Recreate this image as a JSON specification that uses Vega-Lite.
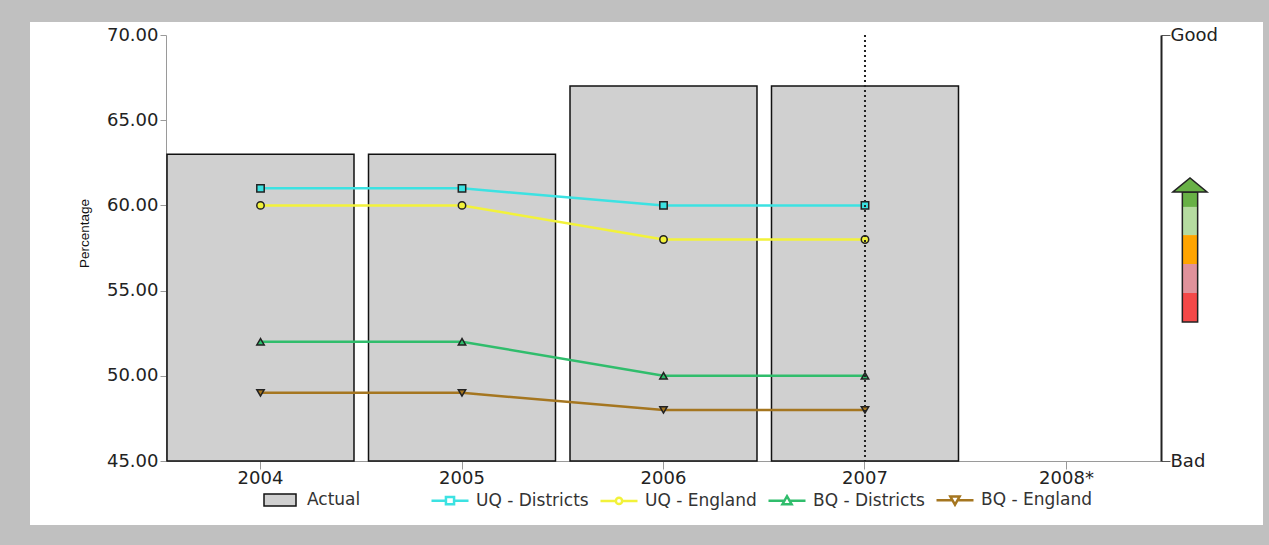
{
  "$schema": "https://vega.github.io/schema/vega-lite/v6.json",
  "width": 1233,
  "height": 503,
  "autosize": "none",
  "padding": {"left": 30, "top": 22, "right": 6, "bottom": 20},
  "background": "#c0c0c0",
  "config": {
    "view": {"stroke": null, "fill": "white"},
    "font": "DejaVu Sans"
  },
  "datasets": {
    "actual": [
      {"year": "2004", "series": "Actual", "value": 63},
      {"year": "2005", "series": "Actual", "value": 63},
      {"year": "2006", "series": "Actual", "value": 67},
      {"year": "2007", "series": "Actual", "value": 67}
    ],
    "comparators": [
      {"year": "2004", "series": "UQ - Districts", "value": 61},
      {"year": "2005", "series": "UQ - Districts", "value": 61},
      {"year": "2006", "series": "UQ - Districts", "value": 60},
      {"year": "2007", "series": "UQ - Districts", "value": 60},
      {"year": "2004", "series": "UQ - England", "value": 60},
      {"year": "2005", "series": "UQ - England", "value": 60},
      {"year": "2006", "series": "UQ - England", "value": 58},
      {"year": "2007", "series": "UQ - England", "value": 58},
      {"year": "2004", "series": "BQ - Districts", "value": 52},
      {"year": "2005", "series": "BQ - Districts", "value": 52},
      {"year": "2006", "series": "BQ - Districts", "value": 50},
      {"year": "2007", "series": "BQ - Districts", "value": 50},
      {"year": "2004", "series": "BQ - England", "value": 49},
      {"year": "2005", "series": "BQ - England", "value": 49},
      {"year": "2006", "series": "BQ - England", "value": 48},
      {"year": "2007", "series": "BQ - England", "value": 48}
    ],
    "ratingBands": [
      {"band": "red", "lo": 53.16, "hi": 54.86},
      {"band": "pink", "lo": 54.86, "hi": 56.56},
      {"band": "orange", "lo": 56.56, "hi": 58.26},
      {"band": "light green", "lo": 58.26, "hi": 59.91},
      {"band": "dark green", "lo": 59.91, "hi": 60.79}
    ],
    "arrowHead": [
      {"pos": -1, "level": 60.79},
      {"pos": 0, "level": 61.61},
      {"pos": 1, "level": 60.79}
    ]
  },
  "layer": [
    {
      "layer": [
        {
          "data": {"name": "comparators"},
          "mark": {"type": "point", "filled": false, "size": 4, "strokeWidth": 2.5, "opacity": 1},
          "encoding": {
            "x": {
              "field": "year",
              "type": "nominal",
              "scale": {
                "domain": ["2004", "2005", "2006", "2007", "2008*"],
                "range": [136, 1131],
                "paddingInner": 0.072,
                "paddingOuter": 0.005
              },
              "axis": {
                "orient": "bottom",
                "offset": -64,
                "labelAngle": 0,
                "domainColor": "#9a9a9a",
                "tickColor": "#9a9a9a",
                "tickSize": 8,
                "labelFont": "DejaVu Sans",
                "labelFontSize": 18,
                "labelColor": "#222",
                "labelPadding": 0
              },
              "title": null
            },
            "y": {
              "field": "value",
              "type": "quantitative",
              "scale": {"domain": [45, 70], "range": [439, 13], "zero": false, "nice": false},
              "axis": {
                "orient": "left",
                "offset": -136,
                "values": [45, 50, 55, 60, 65, 70],
                "format": ".2f",
                "grid": false,
                "domainColor": "#9a9a9a",
                "tickColor": "#9a9a9a",
                "tickSize": 6,
                "labelFont": "DejaVu Sans",
                "labelFontSize": 18,
                "labelColor": "#222",
                "labelPadding": 2,
                "titleFont": "Liberation Sans",
                "titleFontSize": 13.5,
                "titleFontWeight": "normal",
                "titleColor": "#111",
                "titlePadding": 15,
                "titleY": 211
              },
              "title": "Percentage"
            },
            "color": {
              "field": "series",
              "type": "nominal",
              "scale": {
                "domain": ["UQ - Districts", "UQ - England", "BQ - Districts", "BQ - England"],
                "range": ["#3ce2e2", "#f2f23a", "#30bd6c", "#a57620"]
              },
              "legend": {
                "orient": "none",
                "legendX": 400,
                "legendY": 458,
                "direction": "horizontal",
                "columns": 4,
                "title": null,
                "padding": 0,
                "symbolSize": 1369,
                "symbolStrokeWidth": 2.5,
                "symbolOpacity": 1,
                "labelFont": "DejaVu Sans",
                "labelFontSize": 17,
                "labelColor": "#333",
                "labelOffset": 6,
                "columnPadding": 6
              }
            },
            "shape": {
              "field": "series",
              "type": "nominal",
              "scale": {
                "domain": ["UQ - Districts", "UQ - England", "BQ - Districts", "BQ - England"],
                "range": [
                  "M -1 0 H -0.22 M 0.22 0 H 1 M -0.22 -0.2 H 0.22 V 0.2 H -0.22 Z",
                  "M -1 0 H -0.17 M 0.17 0 H 1 M -0.17 0 A 0.17 0.17 0 1 0 0.17 0 A 0.17 0.17 0 1 0 -0.17 0 Z",
                  "M -1 0 H -0.14 M 0.14 0 H 1 M -0.25 0.2 L 0 -0.24 L 0.25 0.2 Z",
                  "M -1 0 H -0.14 M 0.14 0 H 1 M -0.25 -0.2 L 0 0.24 L 0.25 -0.2 Z"
                ]
              }
            }
          }
        },
        {
          "data": {"name": "actual"},
          "mark": {"type": "bar", "stroke": "#111", "strokeWidth": 1.5},
          "encoding": {
            "x": {"field": "year", "type": "nominal"},
            "y": {"field": "value", "type": "quantitative"},
            "y2": {"datum": 45},
            "fill": {
              "field": "series",
              "type": "nominal",
              "scale": {"domain": ["Actual"], "range": ["#d0d0d0"]},
              "legend": {
                "orient": "none",
                "legendX": 233,
                "legendY": 461,
                "title": null,
                "padding": 0,
                "symbolType": "M -1 -0.38 H 1 V 0.38 H -1 Z",
                "symbolSize": 1024,
                "symbolStrokeColor": "#111",
                "symbolStrokeWidth": 1.5,
                "labelFont": "DejaVu Sans",
                "labelFontSize": 17,
                "labelColor": "#333",
                "labelOffset": 10
              }
            }
          }
        },
        {
          "data": {"name": "comparators"},
          "mark": {"type": "line", "strokeWidth": 2.5},
          "encoding": {
            "x": {"field": "year", "type": "nominal"},
            "y": {"field": "value", "type": "quantitative"},
            "color": {"field": "series", "type": "nominal"}
          }
        },
        {
          "data": {"name": "comparators"},
          "mark": {"type": "point", "filled": true, "stroke": "#222", "strokeWidth": 1.5, "opacity": 1, "size": 55},
          "encoding": {
            "x": {"field": "year", "type": "nominal"},
            "y": {"field": "value", "type": "quantitative"},
            "fill": {
              "condition": [
                {"test": "datum.series === 'UQ - Districts'", "value": "#3ce2e2"},
                {"test": "datum.series === 'UQ - England'", "value": "#f2f23a"},
                {"test": "datum.series === 'BQ - Districts'", "value": "#30bd6c"}
              ],
              "value": "#a57620"
            },
            "shape": {
              "condition": [
                {"test": "datum.series === 'UQ - Districts'", "value": "square"},
                {"test": "datum.series === 'UQ - England'", "value": "circle"},
                {"test": "datum.series === 'BQ - Districts'", "value": "triangle-up"}
              ],
              "value": "triangle-down"
            }
          }
        },
        {
          "data": {"name": "actual"},
          "mark": {"type": "rule", "color": "#222", "strokeWidth": 2, "strokeDash": [2, 3]},
          "encoding": {
            "x": {"datum": "2007", "type": "nominal", "bandPosition": 0.5},
            "y": {"datum": 70, "type": "quantitative"},
            "y2": {"datum": 45}
          }
        }
      ]
    },
    {
      "layer": [
        {
          "data": {"name": "ratingBands"},
          "mark": {"type": "rect"},
          "encoding": {
            "x": {
              "datum": -0.45,
              "type": "quantitative",
              "scale": {"domain": [-1, 1], "range": [1143, 1177], "zero": false, "nice": false},
              "axis": null
            },
            "x2": {"datum": 0.45},
            "y": {
              "field": "lo",
              "type": "quantitative",
              "scale": {"domain": [45, 70], "range": [439, 13], "zero": false, "nice": false},
              "axis": {
                "orient": "right",
                "offset": -102,
                "values": [45, 70],
                "labelExpr": "datum.value >= 70 ? 'Good' : 'Bad'",
                "grid": false,
                "domainColor": "#222",
                "domainWidth": 2,
                "tickColor": "#555",
                "tickSize": 9,
                "labelFont": "DejaVu Sans",
                "labelFontSize": 18,
                "labelColor": "#222",
                "labelPadding": 0,
                "title": null
              }
            },
            "y2": {"field": "hi"},
            "fill": {
              "field": "band",
              "type": "nominal",
              "scale": {
                "domain": ["red", "pink", "orange", "light green", "dark green"],
                "range": ["#f44848", "#e0929b", "#ffa400", "#b5dba0", "#68b146"]
              },
              "legend": null
            }
          }
        },
        {
          "data": {"name": "ratingBands"},
          "mark": {"type": "rect", "fillOpacity": 0, "stroke": "#222", "strokeWidth": 1.5},
          "encoding": {
            "x": {"datum": -0.45, "type": "quantitative"},
            "x2": {"datum": 0.45},
            "y": {"aggregate": "min", "field": "lo", "type": "quantitative"},
            "y2": {"aggregate": "max", "field": "hi"}
          }
        },
        {
          "data": {"name": "arrowHead"},
          "mark": {"type": "area", "fill": "#68b146", "stroke": "#222", "strokeWidth": 1.5, "opacity": 1},
          "encoding": {
            "x": {"field": "pos", "type": "quantitative"},
            "y": {"field": "level", "type": "quantitative"},
            "y2": {"datum": 60.79}
          }
        }
      ]
    }
  ],
  "resolve": {"scale": {"x": "independent", "y": "independent", "fill": "independent"}}
}
